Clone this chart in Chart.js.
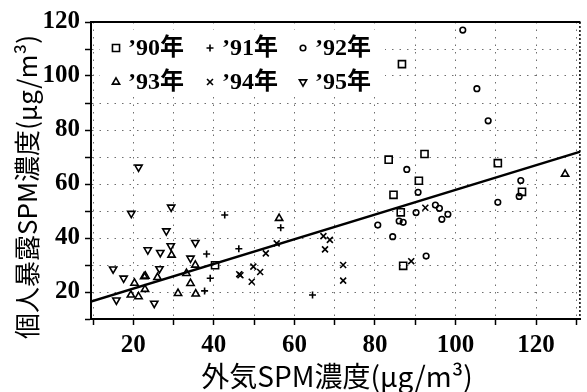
<!DOCTYPE html>
<html lang="ja">
<head>
<meta charset="UTF-8">
<title>外気SPM濃度と個人暴露SPM濃度</title>
<style>
  html, body { margin: 0; padding: 0; background: #fff; }
  canvas { display: block; }
</style>
</head>
<body>
<canvas id="spmChart" width="587" height="392"></canvas>
<script src="https://cdn.jsdelivr.net/npm/chart.js"></script>
<script>
// 年別の測定値 (外気SPM, 個人暴露SPM)
const years = ['’90年', '’91年', '’92年', '’93年', '’94年', '’95年'];

const x90 = [86.7, 92.3, 83.4, 90.9, 84.6, 86.4, 87.0, 110.5, 116.5, 40.3];
const y90 = [104.4, 71.1, 69.0, 61.2, 56.0, 49.5, 29.7, 67.7, 57.1, 29.9];

const x91 = [42.7, 38.2, 39.1, 37.7, 56.6, 46.2, 64.5];
const y91 = [48.5, 34.1, 25.1, 20.4, 43.8, 36.0, 18.9];

const x92 = [101.8, 105.3, 108.1, 87.9, 90.7, 80.7, 86.0, 87.0, 90.2, 95.0, 96.0, 96.6, 98.1, 84.4, 92.7, 116.2, 115.8, 110.5];
const y92 = [117.0, 95.3, 83.4, 65.4, 56.9, 44.8, 46.3, 45.8, 49.4, 52.2, 51.0, 46.9, 48.8, 40.5, 33.3, 61.3, 55.4, 53.2];

const x93 = [29.5, 22.7, 23.0, 26.0, 35.4, 22.9, 19.4, 21.3, 31.1, 34.2, 35.5, 20.3, 33.2, 56.2, 127.2];
const y93 = [33.7, 25.7, 25.9, 25.4, 30.0, 21.0, 18.9, 18.3, 19.5, 23.2, 19.3, 23.3, 26.9, 47.3, 63.7];

const x94 = [52.9, 46.3, 46.6, 49.8, 51.5, 49.4, 67.2, 68.8, 67.6, 72.1, 72.1, 55.6, 92.5, 89.0];
const y94 = [34.3, 26.6, 26.2, 29.4, 27.4, 23.8, 40.7, 39.3, 35.8, 30.0, 24.2, 38.0, 51.2, 31.4];

const x95 = [21.3, 19.5, 29.4, 28.2, 29.3, 35.4, 23.6, 26.7, 34.2, 15.0, 26.5, 17.6, 15.8, 25.2];
const y95 = [66.2, 49.1, 51.4, 42.6, 37.1, 38.3, 35.6, 34.6, 32.5, 28.5, 28.6, 25.1, 17.0, 15.8];

// 回帰直線の両端
const fitX = [9.5, 131];
const fitY = [16.5, 72.0];

const xTicks = [10, 20, 30, 40, 50, 60, 70, 80, 90, 100, 110, 120, 130];
const xLabels = [20, 40, 60, 80, 100, 120];
const yTicks = [10, 20, 30, 40, 50, 60, 70, 80, 90, 100, 110, 120];
const yLabels = [20, 40, 60, 80, 100, 120];

const xTitle = '外気SPM濃度(μg/m³)';
const yTitle = '個人暴露SPM濃度(μg/m³)';

const toPoints = (xs, ys) => xs.map((x, i) => ({ x: x, y: ys[i] }));

const markers = [
  { style: 'rect', radius: 5, rotation: 0 },
  { style: 'cross', radius: 3.5, rotation: 0 },
  { style: 'circle', radius: 2.8, rotation: 0 },
  { style: 'triangle', radius: 4.2, rotation: 0 },
  { style: 'crossRot', radius: 4.2, rotation: 0 },
  { style: 'triangle', radius: 4.2, rotation: 180 }
];
const series = [[x90, y90], [x91, y91], [x92, y92], [x93, y93], [x94, y94], [x95, y95]];

const datasets = series.map((s, i) => ({
  label: years[i],
  data: toPoints(s[0], s[1]),
  pointStyle: markers[i].style,
  pointRadius: markers[i].radius,
  rotation: markers[i].rotation,
  borderColor: '#000',
  backgroundColor: 'rgba(0,0,0,0)',
  borderWidth: 1.6
}));

datasets.push({
  type: 'line',
  label: 'fit',
  data: toPoints(fitX, fitY),
  borderColor: '#000',
  borderWidth: 2.5,
  pointRadius: 0,
  fill: false
});

const serif = '"Liberation Serif", "Noto Sans CJK JP", serif';
const gothic = '"Noto Sans CJK JP", "Noto Sans", sans-serif';

// 凡例・軸タイトル・上と右の枠
const decorations = {
  id: 'decorations',
  beforeDatasetsDraw(chart) {
    const ctx = chart.ctx;
    ctx.save();
    ctx.fillStyle = '#fff';
    ctx.fillRect(100, 30, 285, 66);
    ctx.restore();
  },
  afterDraw(chart) {
    const ctx = chart.ctx;
    const area = chart.chartArea;
    ctx.save();

    // 上枠 (実線) と右枠 (点線)
    ctx.strokeStyle = '#000';
    ctx.lineWidth = 2;
    ctx.beginPath();
    ctx.moveTo(area.left - 1, area.top);
    ctx.lineTo(area.right, area.top);
    ctx.stroke();
    ctx.setLineDash([2, 2]);
    ctx.lineWidth = 1.5;
    ctx.beginPath();
    ctx.moveTo(area.right - 0.5, area.top);
    ctx.lineTo(area.right - 0.5, area.bottom);
    ctx.stroke();
    ctx.setLineDash([]);

    // 凡例
    const cols = [116, 210, 303];
    const rows = [48, 82];
    ctx.font = 'bold 24px ' + serif;
    ctx.textBaseline = 'middle';
    ctx.textAlign = 'left';
    years.forEach((name, i) => {
      const cx = cols[i % 3];
      const cy = rows[Math.floor(i / 3)];
      ctx.strokeStyle = '#000';
      ctx.fillStyle = 'rgba(0,0,0,0)';
      ctx.lineWidth = 1.6;
      Chart.helpers.drawPoint(ctx, {
        pointStyle: markers[i].style,
        radius: markers[i].radius,
        rotation: markers[i].rotation,
        borderWidth: 1.6
      }, cx, cy);
      ctx.fillStyle = '#000';
      ctx.fillText(name, cx + 12, cy + 1);
    });

    // 軸タイトル
    ctx.fillStyle = '#000';
    ctx.font = '28px ' + gothic;
    ctx.textAlign = 'center';
    ctx.textBaseline = 'middle';
    ctx.fillText(xTitle, 337, 376);

    ctx.font = '26px ' + gothic;
    ctx.translate(27, 187);
    ctx.rotate(-Math.PI / 2);
    ctx.fillText(yTitle, 0, 0);
    ctx.restore();
  }
};

new Chart(document.getElementById('spmChart'), {
  type: 'scatter',
  data: { datasets: datasets },
  plugins: [decorations],
  options: {
    responsive: false,
    animation: false,
    events: [],
    layout: { padding: { top: 22, right: 1, left: 0, bottom: 0 } },
    plugins: {
      legend: { display: false },
      tooltip: { enabled: false }
    },
    scales: {
      x: {
        type: 'linear',
        min: 9.5,
        max: 131,
        afterBuildTicks: s => { s.ticks = xTicks.map(v => ({ value: v })); },
        afterFit: s => { s.height = 73; },
        ticks: {
          autoSkip: false,
          maxRotation: 0,
          padding: 6,
          color: '#000',
          font: { family: serif, size: 25, weight: 'bold' },
          callback: v => xLabels.includes(v) ? String(v) : ''
        },
        grid: { color: '#6e6e6e', lineWidth: 1, tickLength: 6, tickColor: '#000', tickWidth: 1.5 },
        border: { color: '#000', width: 2, dash: [1.5, 6] }
      },
      y: {
        type: 'linear',
        min: 10,
        max: 120,
        afterBuildTicks: s => { s.ticks = yTicks.map(v => ({ value: v })); },
        afterFit: s => { s.width = 91; },
        ticks: {
          autoSkip: false,
          padding: 5,
          color: '#000',
          font: { family: serif, size: 25, weight: 'bold' },
          callback: v => yLabels.includes(v) ? String(v) : ''
        },
        grid: { color: '#6e6e6e', lineWidth: 1, tickLength: 6, tickColor: '#000', tickWidth: 1.5 },
        border: { color: '#000', width: 2, dash: [1.5, 6] }
      }
    }
  }
});
</script>
</body>
</html>
